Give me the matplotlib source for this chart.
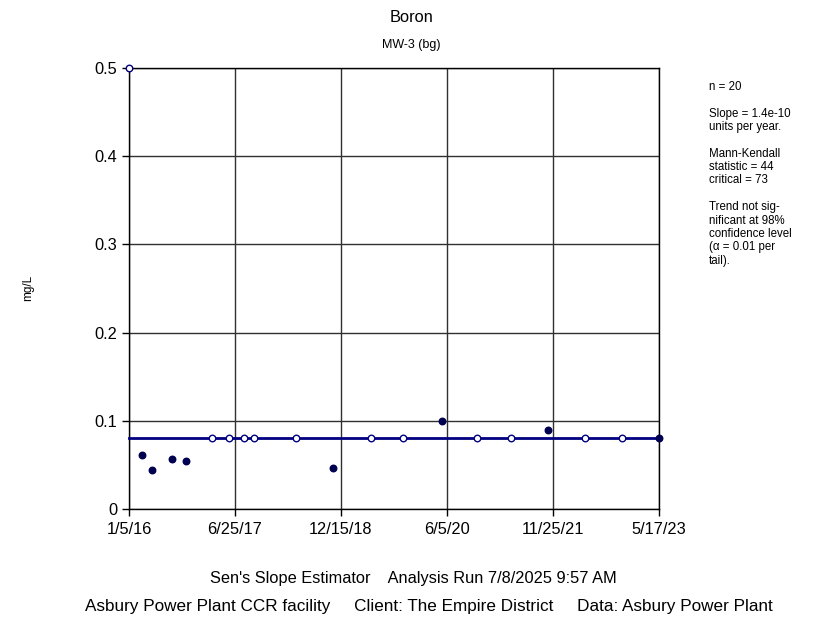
import matplotlib
matplotlib.use("Agg")
import matplotlib.pyplot as plt
import matplotlib.dates as mdates
import numpy as np
from datetime import datetime

plt.rcParams['font.family'] = ['Liberation Sans', 'DejaVu Sans']

# Data
dates = ["2016-01-05", "2016-03-11", "2016-05-01", "2016-08-08", "2016-10-20",
         "2017-03-02", "2017-05-28", "2017-08-11", "2017-09-29", "2018-04-29",
         "2018-11-07", "2019-05-15", "2019-10-26", "2020-05-10", "2020-11-04",
         "2021-04-28", "2021-11-02", "2022-05-08", "2022-11-10", "2023-05-17"]
values = [0.5, 0.061, 0.044, 0.057, 0.054,
          0.08, 0.08, 0.08, 0.08, 0.08,
          0.047, 0.08, 0.08, 0.1, 0.08,
          0.08, 0.09, 0.08, 0.08, 0.08]
nondetect = [True, False, False, False, False,
             True, True, True, True, True,
             False, True, True, False, True,
             True, False, True, True, False]
trend_value = 0.08
tick_labels = ["1/5/16", "6/25/17", "12/15/18", "6/5/20", "11/25/21", "5/17/23"]
y_ticks = [0, 0.1, 0.2, 0.3, 0.4, 0.5]
y_tick_labels = ["0", "0.1", "0.2", "0.3", "0.4", "0.5"]

x = mdates.date2num([datetime.strptime(d, "%Y-%m-%d") for d in dates])
vals = np.array(values)
nd = np.array(nondetect)
ticks = mdates.date2num([datetime.strptime(t, "%m/%d/%y") for t in tick_labels])

navy = "#000080"
fig = plt.figure(figsize=(8.23, 6.24), dpi=100)
ax = fig.add_axes([129/823, 1 - 509/624, 530/823, 441/624])

ax.set_xlim(ticks[0], ticks[-1])
ax.set_ylim(0, 0.5)
ax.set_xticks(ticks)
ax.set_xticklabels(tick_labels)
ax.set_yticks(y_ticks)
ax.set_yticklabels(y_tick_labels)
ax.grid(True, color="#303030", linewidth=1.0)
ax.set_axisbelow(True)
for s in ax.spines.values():
    s.set_color("black")
    s.set_linewidth(1.0)
ax.tick_params(axis="both", direction="out", length=5, width=1, labelsize=11.8, colors="black")
ax.tick_params(axis="x", pad=4)

ax.plot([ticks[0], ticks[-1]], [trend_value, trend_value], color=navy, linewidth=2.0, zorder=3, clip_on=False)
ax.scatter(x[~nd], vals[~nd], s=22, color="#000050", edgecolors="#000050", zorder=5, clip_on=False)
ax.scatter(x[nd], vals[nd], s=22, facecolors="white", edgecolors=navy, linewidths=1.0, zorder=5, clip_on=False)

fig.text(0.5, 1 - 17/624, "Boron", ha="center", va="center", fontsize=11.8)
fig.text(0.5, 1 - 45/624, "MW-3 (bg)", ha="center", va="center", fontsize=9)
fig.text(28/823, 1 - 288/624, "mg/L", ha="center", va="center", rotation=90, fontsize=8.5)

side = ("n = 20\n\nSlope = 1.4e-10\nunits per year.\n\nMann-Kendall\nstatistic = 44\n"
        "critical = 73\n\nTrend not sig-\nnificant at 98%\nconfidence level\n(\u03b1 = 0.01 per\ntail).")
fig.text(709/823, 1 - 81/624, side, ha="left", va="top", fontsize=8.3, linespacing=1.15)

fig.text(413/823, 1 - 578/624, "Sen's Slope Estimator    Analysis Run 7/8/2025 9:57 AM",
         ha="center", va="center", fontsize=11.8)
fig.text(429/823, 1 - 607/624,
         "Asbury Power Plant CCR facility     Client: The Empire District     Data: Asbury Power Plant",
         ha="center", va="center", fontsize=12.3)

fig.savefig("out.png", dpi=100)
